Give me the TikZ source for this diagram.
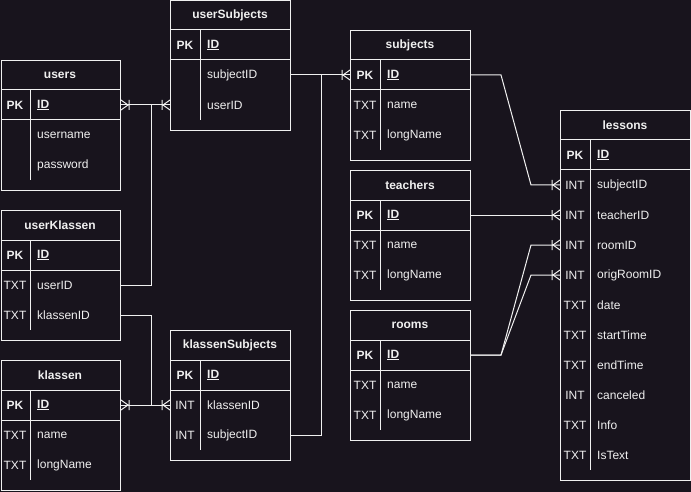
\documentclass[tikz,border=0pt]{standalone}
\usepackage{fontspec}
\setmainfont{Liberation Sans}
\usepackage{tikz}
\usetikzlibrary{arrows.meta}

\definecolor{bg}{HTML}{18141D}
\definecolor{fg}{HTML}{F0F0F0}

% crow's foot (one or many)
\pgfdeclarearrow{
  name = crow,
  setup code = {
    \pgfarrowssettipend{0pt}
    \pgfarrowssetlineend{0pt}
    \pgfarrowssetbackend{-8pt}
    \pgfarrowssetvisualbackend{-8pt}
    \pgfarrowshullpoint{0pt}{5pt}
    \pgfarrowshullpoint{0pt}{-5pt}
    \pgfarrowshullpoint{-8pt}{0pt}
  },
  drawing code = {
    \pgfpathmoveto{\pgfqpoint{0pt}{5pt}}
    \pgfpathlineto{\pgfqpoint{-7pt}{0pt}}
    \pgfpathlineto{\pgfqpoint{0pt}{-5pt}}
    \pgfpathmoveto{\pgfqpoint{-8pt}{5pt}}
    \pgfpathlineto{\pgfqpoint{-8pt}{-5pt}}
    \pgfusepathqstroke
  }
}

\tikzset{
  tbl/.style={draw=fg, line width=1pt, anchor=north west, inner sep=0pt, minimum width=120pt, minimum height=130pt},
  ln/.style={draw=fg, line width=1pt},
  rel/.style={draw=fg, line width=1pt},
  hd/.style={text=fg, inner sep=0pt, font=\fontsize{12}{14}\selectfont\bfseries},
  typ/.style={text=fg, inner sep=0pt, font=\fontsize{12}{14}\selectfont},
  fld/.style={text=fg, inner sep=0pt, anchor=west, font=\fontsize{12}{14}\selectfont}
}

\begin{document}
\begin{tikzpicture}[x=1pt, y=-1pt]
\fill[bg](0,0)rectangle(691,492);
\useasboundingbox (0,0) rectangle (691,492);

% users
\node[tbl, minimum width=119.5pt] (users) at (0.5,60) {};
\draw[ln](0.5,90)--(120,90) (0.5,120)--(120,120) (30,90)--(30,180);
\node[hd] at (60,75) {users};
\node[typ] at (15,105) {\bfseries PK};
\node[fld] (users-id) at (37,105) {\bfseries\underline{ID}};
\node[fld] at (37,135) {username};
\node[fld] at (37,165) {password};

% userSubjects
\node[tbl, minimum height=129.5pt] (usub) at (170,0.5) {};
\draw[ln](170,30)--(290,30) (170,60)--(290,60) (200,30)--(200,120);
\node[hd] at (230,15) {userSubjects};
\node[typ] at (185,45) {\bfseries PK};
\node[fld] at (207,45) {\bfseries\underline{ID}};
\node[fld] (usub-sid) at (207,75) {subjectID};
\node[fld] (usub-uid) at (207,105) {userID};

% userKlassen
\node[tbl, minimum width=119.5pt] (uk) at (0.5,210) {};
\draw[ln](0.5,240)--(120,240) (0.5,270)--(120,270) (30,240)--(30,330);
\node[hd] at (60,225) {userKlassen};
\node[typ] at (15,255) {\bfseries PK};
\node[fld] at (37,255) {\bfseries\underline{ID}};
\node[typ] at (15,285) {TXT};
\node[fld] (uk-uid) at (37,285) {userID};
\node[typ] at (15,315) {TXT};
\node[fld] (uk-kid) at (37,315) {klassenID};

% klassen
\node[tbl, minimum width=119.5pt] (kl) at (0.5,360) {};
\draw[ln](0.5,390)--(120,390) (0.5,420)--(120,420) (30,390)--(30,480);
\node[hd] at (60,375) {klassen};
\node[typ] at (15,405) {\bfseries PK};
\node[fld] (kl-id) at (37,405) {\bfseries\underline{ID}};
\node[typ] at (15,435) {TXT};
\node[fld] at (37,435) {name};
\node[typ] at (15,465) {TXT};
\node[fld] at (37,465) {longName};

% klassenSubjects
\node[tbl] (ks) at (170,330) {};
\draw[ln](170,360)--(290,360) (170,390)--(290,390) (200,360)--(200,450);
\node[hd] at (230,345) {klassenSubjects};
\node[typ] at (185,375) {\bfseries PK};
\node[fld] at (207,375) {\bfseries\underline{ID}};
\node[typ] at (185,405) {INT};
\node[fld] (ks-kid) at (207,405) {klassenID};
\node[typ] at (185,435) {INT};
\node[fld] (ks-sid) at (207,435) {subjectID};

% subjects
\node[tbl] (subj) at (350,30) {};
\draw[ln](350,60)--(470,60) (350,90)--(470,90) (380,60)--(380,150);
\node[hd] at (410,45) {subjects};
\node[typ] at (365,75) {\bfseries PK};
\node[fld] (subj-id) at (387,75) {\bfseries\underline{ID}};
\node[typ] at (365,105) {TXT};
\node[fld] at (387,105) {name};
\node[typ] at (365,135) {TXT};
\node[fld] at (387,135) {longName};

% teachers
\node[tbl] (tea) at (350,170) {};
\draw[ln](350,200)--(470,200) (350,230)--(470,230) (380,200)--(380,290);
\node[hd] at (410,185) {teachers};
\node[typ] at (365,215) {\bfseries PK};
\node[fld] (tea-id) at (387,215) {\bfseries\underline{ID}};
\node[typ] at (365,245) {TXT};
\node[fld] at (387,245) {name};
\node[typ] at (365,275) {TXT};
\node[fld] at (387,275) {longName};

% rooms
\node[tbl] (rooms) at (350,310) {};
\draw[ln](350,340)--(470,340) (350,370)--(470,370) (380,340)--(380,430);
\node[hd] at (410,325) {rooms};
\node[typ] at (365,355) {\bfseries PK};
\node[fld] (rooms-id) at (387,355) {\bfseries\underline{ID}};
\node[typ] at (365,385) {TXT};
\node[fld] at (387,385) {name};
\node[typ] at (365,415) {TXT};
\node[fld] at (387,415) {longName};

% lessons
\node[tbl, minimum width=130pt, minimum height=370pt] (les) at (560,110) {};
\draw[ln](560,140)--(690,140) (560,170)--(690,170) (590,140)--(590,470);
\node[hd] at (625,125) {lessons};
\node[typ] at (575,155) {\bfseries PK};
\node[fld] at (597,155) {\bfseries\underline{ID}};
\node[typ] at (575,185) {INT};
\node[fld] (les-sid) at (597,185) {subjectID};
\node[typ] at (575,215) {INT};
\node[fld] (les-tid) at (597,215) {teacherID};
\node[typ] at (575,245) {INT};
\node[fld] (les-rid) at (597,245) {roomID};
\node[typ] at (575,275) {INT};
\node[fld] (les-orid) at (597,275) {origRoomID};
\node[typ] at (575,305) {TXT};
\node[fld] at (597,305) {date};
\node[typ] at (575,335) {TXT};
\node[fld] at (597,335) {startTime};
\node[typ] at (575,365) {TXT};
\node[fld] at (597,365) {endTime};
\node[typ] at (575,395) {INT};
\node[fld] at (597,395) {canceled};
\node[typ] at (575,425) {TXT};
\node[fld] at (597,425) {Info};
\node[typ] at (575,455) {TXT};
\node[fld] at (597,455) {IsText};

% relations
\draw[rel, crow-crow](users.east |- users-id)--(usub.west |- usub-uid);
\draw[rel](uk.east |- uk-uid)--++(30,0)|-(users.east |- users-id);
\draw[rel, crow-crow](kl.east |- kl-id)--(ks.west |- ks-kid);
\draw[rel](uk.east |- uk-kid)--++(30,0)|-(kl.east |- kl-id);
\draw[rel, -crow](usub.east |- usub-sid)--(subj.west |- subj-id);
\draw[rel](ks.east |- ks-sid)--++(30,0)|-(subj.west |- subj-id);

\draw[rel, -crow](subj.east |- subj-id)--++(30,0)--++(30,110)--(les.west |- les-sid);
\draw[rel, -crow](tea.east |- tea-id)--(les.west |- les-tid);
\draw[rel, -crow](rooms.east |- rooms-id)--++(30,0)--++(30,-110)--(les.west |- les-rid);
\draw[rel, -crow](rooms.east |- rooms-id)--++(30,0)--++(30,-80)--(les.west |- les-orid);

\end{tikzpicture}
\end{document}
